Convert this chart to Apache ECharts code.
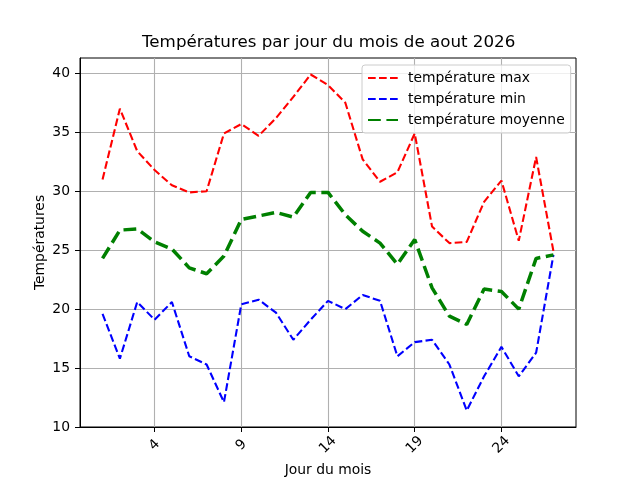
<!DOCTYPE html>
<html>
<head>
<meta charset="utf-8">
<script src="https://cdn.jsdelivr.net/npm/echarts@6/dist/echarts.min.js"></script>
<style>
  html, body { margin: 0; padding: 0; background: #fff; }
  #chart { width: 640px; height: 480px; }
</style>
</head>
<body>
<div id="chart"></div>
<script>
// valeurs
const jours = [1, 2, 3, 4, 5, 6, 7, 8, 9, 10, 11, 12, 13, 14, 15, 16, 17, 18, 19, 20, 21, 22, 23, 24, 25, 26, 27];
const tempMax = [31.0, 37.0, 33.4, 31.8, 30.5, 29.9, 30.0, 34.9, 35.7, 34.7, 36.2, 38.0, 39.9, 39.0, 37.5, 32.7, 30.8, 31.6, 34.9, 27.0, 25.6, 25.7, 29.1, 30.9, 25.8, 32.9, 24.9];
const tempMin = [19.6, 15.8, 20.6, 19.1, 20.6, 16.0, 15.3, 12.1, 20.4, 20.8, 19.7, 17.4, 19.1, 20.7, 20.0, 21.2, 20.7, 16.0, 17.2, 17.4, 15.3, 11.4, 14.3, 16.8, 14.3, 16.3, 24.6];
const tempMoy = [24.3, 26.7, 26.8, 25.7, 25.1, 23.5, 23.0, 24.5, 27.6, 27.9, 28.2, 27.8, 29.9, 29.9, 28.0, 26.6, 25.6, 23.8, 25.9, 21.8, 19.4, 18.7, 21.7, 21.5, 20.0, 24.3, 24.6];
const xTicks = [4, 9, 14, 19, 24];
const yTicks = [10, 15, 20, 25, 30, 35, 40];

const police = 'DejaVu Sans';

function paires(vals) {
    return jours.map((j, i) => [j, vals[i]]);
}

const chart = echarts.init(document.getElementById('chart'));
const option = {
    animation: false,
    textStyle: { fontFamily: police },
    title: {
        text: 'Températures par jour du mois de aout 2026',
        left: 142,
        top: 34,
        padding: 0,
        textStyle: { fontFamily: police, fontSize: 16.7, fontWeight: 'normal', color: '#000' }
    },
    grid: {
        left: 80, right: 64, top: 58, bottom: 53,
        outerBoundsMode: 'none',
        containLabel: false,
        show: true, borderColor: '#000', borderWidth: 1, backgroundColor: 'transparent'
    },
    legend: {
        orient: 'vertical',
        left: 362, top: 65,
        padding: [6, 6, 6, 5],
        itemWidth: 30, itemHeight: 10, itemGap: 7,
        backgroundColor: 'rgba(255,255,255,0.8)',
        borderColor: '#cccccc', borderWidth: 1, borderRadius: 3,
        itemStyle: { opacity: 0 },
        textStyle: { fontFamily: police, fontSize: 13.9, color: '#000', padding: [0, 0, 0, 5] },
        data: ['température max', 'température min', 'température moyenne']
    },
    xAxis: {
        type: 'value',
        min: -0.3, max: 28.3,
        name: 'Jour du mois',
        nameLocation: 'middle',
        nameGap: 36,
        nameMoveOverlap: false,
        nameTextStyle: { fontFamily: police, fontSize: 13.9, color: '#000' },
        axisLine: { show: true, onZero: false, lineStyle: { color: '#000' } },
        axisTick: { show: true, inside: false, length: 5, customValues: xTicks, lineStyle: { color: '#000' } },
        axisLabel: { customValues: xTicks, rotate: 45, fontSize: 13.9, color: '#000', margin: 18, align: 'center', verticalAlign: 'middle' },
        splitLine: { show: true, lineStyle: { color: '#b0b0b0', width: 1.1 } }
    },
    yAxis: {
        type: 'value',
        min: 10, max: 41.3,
        name: 'Températures',
        nameLocation: 'middle',
        nameGap: 33,
        nameMoveOverlap: false,
        nameTextStyle: { fontFamily: police, fontSize: 13.9, color: '#000' },
        axisLine: { show: true, onZero: false, lineStyle: { color: '#000' } },
        axisTick: { show: true, inside: false, length: 5, customValues: yTicks, lineStyle: { color: '#000' } },
        axisLabel: { customValues: yTicks, fontSize: 13.9, color: '#000', margin: 10 },
        splitLine: { show: true, lineStyle: { color: '#b0b0b0', width: 1.1 } }
    },
    series: [
        {
            name: 'température max', type: 'line', data: paires(tempMax),
            symbol: 'none', color: '#ff0000',
            lineStyle: { color: '#ff0000', width: 2.1, type: [7.7, 3.3] }
        },
        {
            name: 'température min', type: 'line', data: paires(tempMin),
            symbol: 'none', color: '#0000ff',
            lineStyle: { color: '#0000ff', width: 2.1, type: [7.7, 3.3] }
        },
        {
            name: 'température moyenne', type: 'line', data: paires(tempMoy),
            symbol: 'none', color: '#008000',
            lineStyle: { color: '#008000', width: 3.5, type: [12.8, 5.6] }
        }
    ]
};
chart.setOption(option);
</script>
</body>
</html>
